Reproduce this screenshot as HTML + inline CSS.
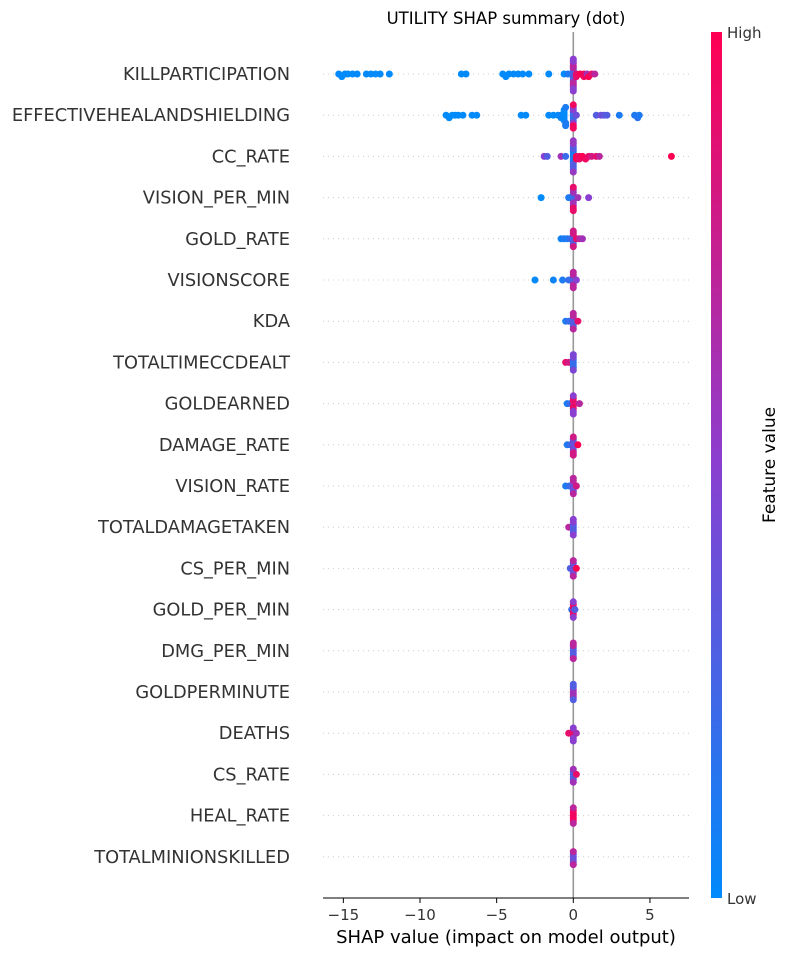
<!DOCTYPE html>
<html><head><meta charset="utf-8">
<style>
html,body{margin:0;padding:0;background:#fff;}
svg{display:block;font-family:"DejaVu Sans","Liberation Sans",sans-serif;}
</style></head>
<body>
<svg id="chart" width="790" height="956" viewBox="0 0 790 956">
<defs>
<linearGradient id="cbar" x1="0" y1="1" x2="0" y2="0">
<stop offset="0" stop-color="#008afb"/>
<stop offset="0.5" stop-color="#8a3fd0"/>
<stop offset="1" stop-color="#ff0052"/>
</linearGradient>
</defs>
<text x="506" y="24" text-anchor="middle" font-size="16.5" fill="#000">UTILITY SHAP summary (dot)</text>
<g id="grid"></g>
<line x1="573.3" y1="32" x2="573.3" y2="898" stroke="#999" stroke-width="1.6"/>
<g id="dots"></g>
<g id="labels"></g>
<line x1="323" y1="898" x2="689" y2="898" stroke="#000" stroke-width="1"/>
<g id="xticks"></g>
<text x="506" y="943" text-anchor="middle" font-size="18" fill="#000">SHAP value (impact on model output)</text>
<rect x="711" y="32" width="11" height="866" fill="url(#cbar)"/>
<text x="727" y="38" font-size="15" fill="#333">High</text>
<text x="727" y="904" font-size="15" fill="#333">Low</text>
<text x="0" y="0" transform="translate(775,465) rotate(-90)" text-anchor="middle" font-size="17" fill="#000">Feature value</text>
</svg>
<script>
const features = ["KILLPARTICIPATION","EFFECTIVEHEALANDSHIELDING","CC_RATE","VISION_PER_MIN","GOLD_RATE","VISIONSCORE","KDA","TOTALTIMECCDEALT","GOLDEARNED","DAMAGE_RATE","VISION_RATE","TOTALDAMAGETAKEN","CS_PER_MIN","GOLD_PER_MIN","DMG_PER_MIN","GOLDPERMINUTE","DEATHS","CS_RATE","HEAL_RATE","TOTALMINIONSKILLED"];
const xTicks = [-15,-10,-5,0,5];
// each entry: "shap,featureValue,count"
const rowPoints = [
"-15.3,0,1 -15.1,0,1 -14.9,0,1 -14.7,0,1 -14.4,0,1 -14.1,0,1 -13.5,0,1 -13.2,0,1 -12.9,0,1 -12.6,0,1 -12.0,0,1 -7.3,0,1 -7.0,0,1 -4.6,0,1 -4.4,0,1 -4.2,0,1 -3.9,0,1 -3.6,0,1 -3.3,0,1 -2.9,0,1 -1.6,0,1 -0.6,0,1 -0.35,0.1,1 0,0.3,6 0,0.7,6 0,0.5,4 0.2,0.9,2 0.45,1,1 0.7,0.95,2 0.9,0.6,1 1.0,1,1 1.2,0.9,1 1.4,0.7,1",
"-8.3,0,1 -8.1,0,1 -7.9,0,1 -7.7,0,1 -7.5,0,1 -7.2,0,1 -6.6,0,1 -6.3,0,1 -3.4,0,1 -3.1,0,1 -1.6,0,1 -1.3,0,1 -1.0,0,1 -0.8,0.05,2 -0.6,0,5 -0.5,0.1,3 0,0.2,4 0,0.5,3 0,0.95,3 0.2,0.4,1 1.5,0.3,1 1.8,0.4,1 2.0,0.35,1 2.2,0.3,1 3.0,0.1,1 4.0,0.1,1 4.2,0.15,1 4.3,0.1,1",
"-1.9,0.5,1 -1.7,0.3,1 -0.8,0.6,1 -0.5,0.2,1 0,0.1,5 0,0.3,5 0,0.55,3 0.2,1,2 0.4,0.9,2 0.6,1,1 0.8,0.95,1 1.0,0.9,1 1.2,0.8,1 1.5,0.9,1 1.7,0.7,1 6.4,1,1",
"-2.1,0,1 -0.3,0.1,1 0,0.2,3 0,0.6,4 0,0.9,3 0.3,0.6,1 1.0,0.5,1",
"-0.8,0.05,1 -0.6,0.1,1 -0.4,0.1,1 -0.2,0.2,1 0,0.3,3 0,0.8,3 0.2,0.9,1 0.4,0.7,1 0.6,0.6,1",
"-2.5,0,1 -1.3,0.05,1 -0.7,0.1,1 -0.3,0.2,1 0,0.3,3 0,0.7,4 0.2,0.5,1",
"-0.5,0.1,1 -0.3,0.2,1 0,0.3,4 0,0.7,3 0.3,0.9,1",
"-0.5,0.9,1 -0.3,0.8,1 0,0.2,4 0,0.45,3",
"-0.4,0.1,1 -0.2,0.2,1 0,0.9,4 0,0.5,3 0.4,0.7,1",
"-0.4,0.1,1 -0.2,0.2,1 0,0.4,4 0,0.8,3 0.3,1,1",
"-0.5,0.1,1 -0.25,0.2,1 0,0.4,4 0,0.7,3 0.2,0.8,1",
"-0.3,0.7,1 0,0.3,4 0,0.5,3",
"-0.2,0.3,1 0,0.4,4 0,0.7,2 0.2,1,1",
"-0.1,0.2,1 0,0.9,4 0,0.5,2 0.1,0.3,1",
"0,0.3,4 0,0.7,3",
"0,0.6,4 0,0.3,3",
"-0.3,0.9,1 0,0.9,3 0,0.5,3 0.2,0.6,1",
"0,0.3,4 0,0.6,2 0.2,0.9,1",
"0,0.95,5 0,0.7,2",
"0,0.4,4 0,0.7,2"
];
const svgNS = "http://www.w3.org/2000/svg";
const x0=573.3, kx=15.33;
function xScale(v){return x0+v*kx;}
function yRow(i){return 74+i*41.2;}
function color(t){
  const a=[0,138,251],m=[138,63,208],b=[255,0,82];
  let c;
  if(t<0.5){const u=t/0.5;c=a.map((v,k)=>Math.round(v+(m[k]-v)*u));}
  else{const u=(t-0.5)/0.5;c=m.map((v,k)=>Math.round(v+(b[k]-v)*u));}
  return "rgb("+c.join(",")+")";
}
const grid=document.getElementById("grid"),dots=document.getElementById("dots"),labels=document.getElementById("labels"),xt=document.getElementById("xticks");
features.forEach((f,i)=>{
  const y=yRow(i);
  const gl=document.createElementNS(svgNS,"line");
  gl.setAttribute("x1",323);gl.setAttribute("x2",689);gl.setAttribute("y1",y);gl.setAttribute("y2",y);
  gl.setAttribute("stroke","#ccc");gl.setAttribute("stroke-dasharray","1,4");gl.setAttribute("stroke-width","1");
  
  
  grid.appendChild(gl);
  const t=document.createElementNS(svgNS,"text");
  t.setAttribute("x",290);t.setAttribute("y",y+6);t.setAttribute("text-anchor","end");
  t.setAttribute("font-size","17.8");t.setAttribute("fill","#333");t.textContent=f;
  
  
  labels.appendChild(t);
  const pts=[];
  rowPoints[i].split(" ").forEach(s=>{const p=s.split(",").map(Number);for(let k=0;k<p[2];k++)pts.push([p[0],p[1]]);});
  const bins={};
  pts.forEach(p=>{const b=Math.round(xScale(p[0])/4);(bins[b]=bins[b]||[]).push(p);});
  Object.values(bins).forEach(arr=>{
    const n=arr.length;
    const step=n>1?Math.min(2.6,17/Math.ceil((n-1)/2)):0;
    arr.forEach((p,k)=>{
      const lvl=Math.ceil(k/2),sgn=k%2?1:-1;
      const c=document.createElementNS(svgNS,"circle");
      c.setAttribute("cx",xScale(p[0]));c.setAttribute("cy",y+sgn*lvl*step);
      c.setAttribute("r",3.5);c.setAttribute("fill",color(p[1]));
      
      
      dots.appendChild(c);
    });
  });
});
xTicks.forEach(v=>{
  const x=xScale(v);
  const l=document.createElementNS(svgNS,"line");
  l.setAttribute("x1",x);l.setAttribute("x2",x);l.setAttribute("y1",898);l.setAttribute("y2",903);l.setAttribute("stroke","#000");
  
  
  xt.appendChild(l);
  const t=document.createElementNS(svgNS,"text");
  t.setAttribute("x",x);t.setAttribute("y",920);t.setAttribute("text-anchor","middle");
  t.setAttribute("font-size","15");t.setAttribute("fill","#333");
  t.textContent=v<0?"\u2212"+Math.abs(v):String(v);
  
  
  xt.appendChild(t);
});
</script>
</body></html>
